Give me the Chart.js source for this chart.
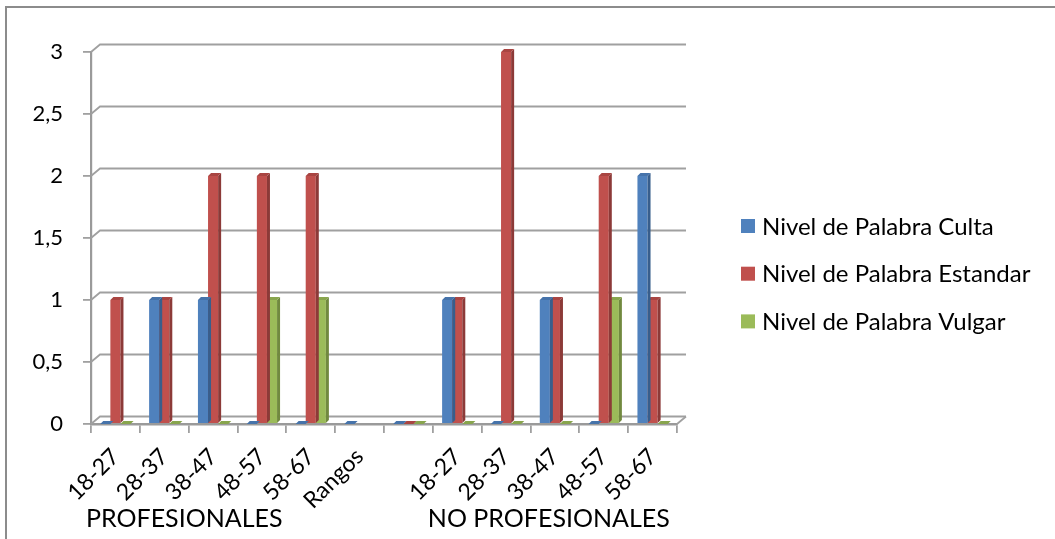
<!DOCTYPE html>
<html>
<head>
<meta charset="utf-8">
<script src="https://cdn.jsdelivr.net/npm/chart.js@4"></script>
<style>
  html, body { margin: 0; padding: 0; background: #fff; }
  canvas { display: block; }
</style>
</head>
<body>
<canvas id="chart" width="1055" height="539"></canvas>
<script>
// Age ranges for each group, with a spacer column between the two groups
const categories = ['18-27', '28-37', '38-47', '48-57', '58-67', 'Rangos', '', '18-27', '28-37', '38-47', '48-57', '58-67'];

const seriesNames = ['Nivel de Palabra Culta', 'Nivel de Palabra Estandar', 'Nivel de Palabra Vulgar'];
const culta    = [0, 1, 1, 0, 0, 0,    0, 1, 0, 1, 0, 2];
const estandar = [1, 1, 2, 2, 2, null, 0, 1, 3, 1, 2, 1];
const vulgar   = [0, 0, 0, 1, 1, null, 0, 0, 0, 0, 1, 0];

// Second-level labels under the age ranges: name and first category index of each group
const groupNames = ['PROFESIONALES', 'NO PROFESIONALES'];
const groupStarts = [0, 7];

const FONT = 'Lato, "Open Sans", sans-serif';
const colors = {
  face: ['#4F81BD', '#C0504D', '#9BBB59'],
  side: ['#385E8C', '#8C3A38', '#71893F'],
  top:  ['#4673AA', '#A94542', '#88A54D']
};
const DEPTH = 3;          // bar extrusion
const WALL_DX = 9, WALL_DY = 7.5;  // back wall offset
const GRID = '#a0a0a0';

// outer frame of the chart object
const framePlugin = {
  id: 'frame',
  beforeDraw(chart) {
    const ctx = chart.ctx;
    ctx.save();
    ctx.strokeStyle = '#8c8c8c';
    ctx.lineWidth = 2;
    ctx.beginPath();
    ctx.moveTo(6, chart.height);
    ctx.lineTo(6, 7);
    ctx.lineTo(chart.width, 7);
    ctx.stroke();
    ctx.restore();
  }
};

// gridlines on the back wall, joined to the value axis by short slanted strokes
const wallPlugin = {
  id: 'wall',
  beforeDatasetsDraw(chart) {
    const { ctx, chartArea, scales } = chart;
    const y = scales.y;
    ctx.save();
    ctx.strokeStyle = GRID;
    ctx.lineWidth = 1.8;
    y.ticks.forEach(t => {
      const py = y.getPixelForValue(t.value);
      ctx.beginPath();
      ctx.moveTo(chartArea.left, py);
      ctx.lineTo(chartArea.left + WALL_DX, py - WALL_DY);
      ctx.lineTo(chartArea.right + WALL_DX, py - WALL_DY);
      ctx.stroke();
    });
    // right edge of the floor
    ctx.beginPath();
    ctx.moveTo(chartArea.right, chartArea.bottom);
    ctx.lineTo(chartArea.right + WALL_DX, chartArea.bottom - WALL_DY);
    ctx.stroke();
    ctx.restore();
  }
};

// side and top faces that give each column its depth
const depthPlugin = {
  id: 'depth',
  afterDatasetDraw(chart, args) {
    const ctx = chart.ctx;
    const i = args.index;
    const data = chart.data.datasets[i].data;
    ctx.save();
    args.meta.data.forEach((bar, k) => {
      if (data[k] === null || data[k] === undefined) return;
      const p = bar.getProps(['x', 'y', 'base', 'width'], true);
      const l = p.x - p.width / 2, r = p.x + p.width / 2;
      const top = Math.min(p.y, p.base), bot = Math.max(p.y, p.base);
      if (bot - top > 0.5) {
        ctx.fillStyle = colors.side[i];
        ctx.beginPath();
        ctx.moveTo(r, top);
        ctx.lineTo(r + DEPTH, top - DEPTH);
        ctx.lineTo(r + DEPTH, bot - DEPTH);
        ctx.lineTo(r, bot);
        ctx.closePath();
        ctx.fill();
      }
      ctx.fillStyle = colors.top[i];
      ctx.beginPath();
      ctx.moveTo(l, top);
      ctx.lineTo(l + DEPTH, top - DEPTH);
      ctx.lineTo(r + DEPTH, top - DEPTH);
      ctx.lineTo(r, top);
      ctx.closePath();
      ctx.fill();
    });
    ctx.restore();
  }
};

// legend at the right and the group captions under the axis
const textPlugin = {
  id: 'texts',
  afterDraw(chart) {
    const { ctx, scales } = chart;
    ctx.save();
    ctx.font = '24px ' + FONT;
    ctx.textBaseline = 'middle';
    ctx.textAlign = 'left';
    chart.data.datasets.forEach((ds, i) => {
      const cy = 226 + i * 47.7;
      ctx.fillStyle = ds.backgroundColor;
      ctx.fillRect(741, cy - 7, 14, 14);
      ctx.fillStyle = '#000';
      ctx.fillText(ds.label, 762, cy + 1);
    });
    ctx.font = '25px ' + FONT;
    ctx.textBaseline = 'alphabetic';
    groupNames.forEach((name, g) => {
      const x = scales.x.getPixelForValue(groupStarts[g] - 0.5) - 5;
      ctx.fillText(name, x, 527);
    });
    ctx.restore();
  }
};

new Chart(document.getElementById('chart'), {
  type: 'bar',
  data: {
    labels: categories,
    datasets: [
      { label: seriesNames[0], data: culta,    backgroundColor: colors.face[0] },
      { label: seriesNames[1], data: estandar, backgroundColor: colors.face[1] },
      { label: seriesNames[2], data: vulgar,   backgroundColor: colors.face[2] }
    ]
  },
  options: {
    responsive: false,
    animation: false,
    devicePixelRatio: 1,
    layout: { padding: { top: 52, right: 378, bottom: 0, left: 0 } },
    datasets: { bar: { categoryPercentage: 0.62, barPercentage: 1.0, borderWidth: 0 } },
    plugins: { legend: { display: false }, tooltip: { enabled: false } },
    scales: {
      x: {
        afterFit(s) { s.height = 115; },
        grid: { display: true, drawOnChartArea: false, drawTicks: true, tickLength: 9, offset: true, color: GRID, lineWidth: 1.8 },
        border: { display: true, color: '#9a9a9a', width: 2.5 },
        ticks: { autoSkip: false, minRotation: 45, maxRotation: 45, padding: 10, color: '#000', font: { family: FONT, size: 23 } }
      },
      y: {
        min: 0, max: 3,
        afterFit(s) { s.width = 91; },
        grid: { display: true, drawOnChartArea: false, drawTicks: true, tickLength: 8, color: GRID, lineWidth: 1.8 },
        border: { display: true, color: '#9a9a9a', width: 2.2 },
        ticks: {
          stepSize: 0.5, padding: 20, color: '#000', font: { family: FONT, size: 22 },
          callback: v => String(v).replace('.', ',')
        }
      }
    }
  },
  plugins: [framePlugin, wallPlugin, depthPlugin, textPlugin]
});
</script>
</body>
</html>
